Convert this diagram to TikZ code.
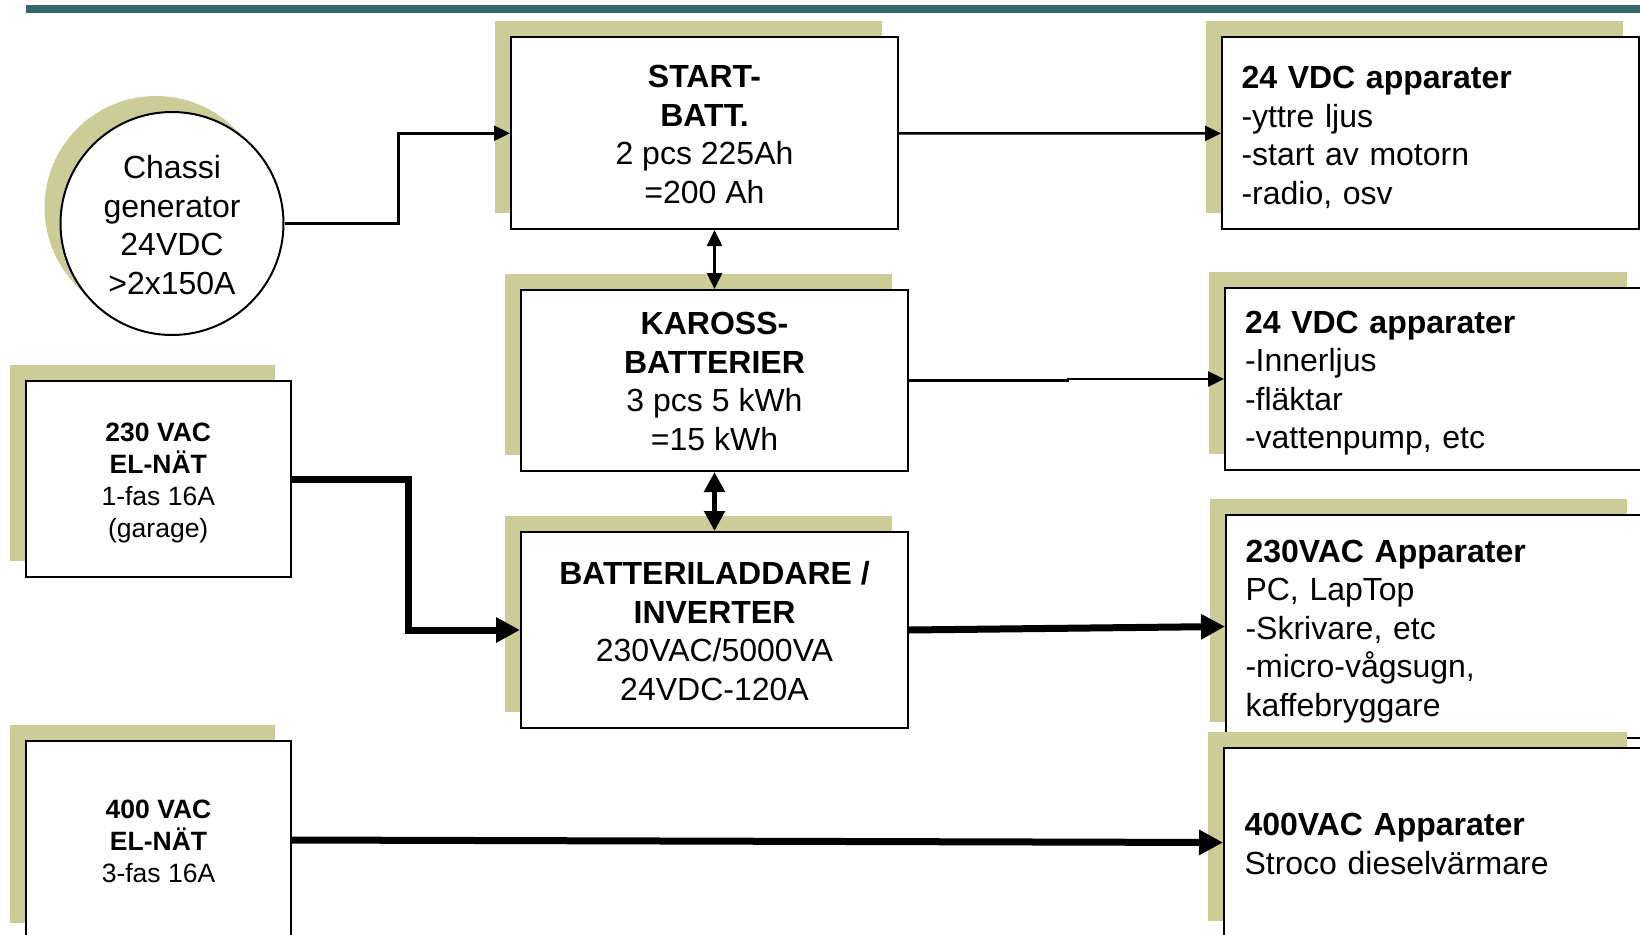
\documentclass[tikz,border=0pt]{standalone}
\usepackage{fontspec}
\setmainfont{Liberation Sans}
\usetikzlibrary{arrows.meta,shadows}
\definecolor{khaki}{RGB}{204,204,153}
\definecolor{barteal}{RGB}{53,104,104}
\begin{document}
\begin{tikzpicture}[x=1pt,y=-1pt,
  sh/.style={drop shadow={shadow xshift=-16pt,shadow yshift=16pt,fill=khaki,opacity=1}},
  box/.style={sh,draw=black,line width=2pt,fill=white,rectangle,inner sep=0pt},
  genbox/.style={sh,circle,draw=black,line width=2pt,fill=white,inner sep=0pt},
  txt/.style={inner sep=0pt,align=center,font=\fontsize{32}{38.5}\selectfont},
  stxt/.style={txt,font=\fontsize{26.5}{32}\selectfont},
  atxt/.style={txt,align=left,text width=378pt},
  thinarr/.style={line width=2.5pt,-{Triangle[length=16pt,width=15pt]}},
  thindbl/.style={line width=2.5pt,{Triangle[length=16pt,width=15pt]}-{Triangle[length=16pt,width=15pt]}},
  thickarr/.style={line width=7pt,-{Triangle[length=24pt,width=24pt]}},
  thickdbl/.style={line width=5pt,{Triangle[length=20pt,width=20pt]}-{Triangle[length=20pt,width=20pt]}}
]
\useasboundingbox (0,0) rectangle (1640,934);
\clip (0,0) rectangle (1640,934);
\fill[barteal] (26,5) rectangle (1640,13);

\node[genbox,minimum size=223pt] (gen) at (172,223.5) {};
\node[txt] (genT) at ([yshift=-1.5pt]gen.center) {Chassi\\generator\\24VDC\\>2x150A};

\node[box,minimum width=387pt,minimum height=191.5pt] (start) at (704.5,133.25) {};
\node[txt] (startT) at ([yshift=-1pt]start.center) {\textbf{START-}\\\textbf{BATT.}\\2 pcs 225Ah\\=200 Ah};

\node[box,minimum width=387pt,minimum height=181pt] (kaross) at (714.5,380.5) {};
\node[txt] (karossT) at ([yshift=-1pt]kaross.center) {\textbf{KAROSS-}\\\textbf{BATTERIER}\\3 pcs 5 kWh\\=15 kWh};

\node[box,minimum width=387pt,minimum height=196pt] (inv) at (714.5,630) {};
\node[txt] (invT) at ([yshift=-1pt]inv.center) {\textbf{BATTERILADDARE /}\\\textbf{INVERTER}\\230VAC/5000VA\\24VDC-120A};

\node[box,minimum width=265.5pt,minimum height=196pt] (ac230) at (158.25,479) {};
\node[stxt] (ac230T) at ([yshift=-4pt]ac230.center) {\textbf{230 VAC}\\\textbf{EL-NÄT}\\1-fas 16A\\(garage)};

\node[box,minimum width=265pt,minimum height=198pt] (ac400) at (158.5,840) {};
\node[stxt] (ac400T) at ([yshift=-1pt]ac400.center) {\textbf{400 VAC}\\\textbf{EL-NÄT}\\3-fas 16A};

\node[box,minimum width=417pt,minimum height=192pt] (r1) at (1430.5,133.4) {};
\node[atxt] (r1T) at ([yshift=-4pt]r1.center) {\textbf{24 VDC apparater}\\-yttre ljus\\-start av motorn\\-radio, osv};

\node[box,minimum width=418pt,minimum height=182pt] (r2) at (1434,379) {};
\node[atxt] (r2T) at ([yshift=-4pt]r2.center) {\textbf{24 VDC apparater}\\-Innerljus\\-fläktar\\-vattenpump, etc};

\node[box,minimum width=417pt,minimum height=223pt] (r3) at (1434.5,626.5) {};
\node[atxt] (r3T) at ([yshift=-5pt]r3.center) {\textbf{230VAC Apparater}\\PC, LapTop\\-Skrivare, etc\\-micro-vågsugn,\\kaffebryggare};

\node[box,minimum width=419pt,minimum height=189pt] (r4) at (1433.5,842.5) {};
\node[atxt] (r4T) at ([yshift=-1.5pt]r4.center) {\textbf{400VAC Apparater}\\Stroco dieselvärmare};

\draw[thinarr] (gen.east) -- ++(114,0) |- (start.west);
\draw[thinarr] (start.east) -- (r1.west);
\draw[thindbl] (kaross.north |- start.south) -- (kaross.north);
\draw[thinarr] (kaross.east) -- ++(159,0) |- (r2.west);
\draw[thickdbl] (kaross.south) -- (inv.north);
\draw[thickarr] (ac230.east) -- ++(116,0) |- (inv.west);
\draw[thickarr] (inv.east) -- (r3.west);
\draw[thickarr] (ac400.east) -- (r4.west);
\end{tikzpicture}
\end{document}
